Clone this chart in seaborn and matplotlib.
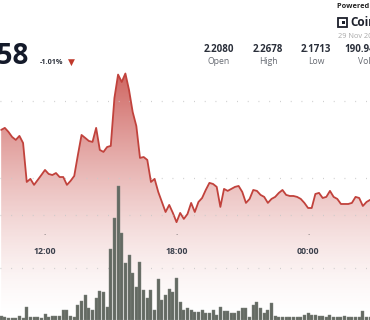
import numpy as np
import pandas as pd
import matplotlib
matplotlib.use("Agg")
import matplotlib.pyplot as plt
import matplotlib.transforms as mtransforms
from matplotlib.patches import Rectangle
import seaborn as sns

# ---------------- data ----------------
start_hour = 10.0          # first 10-minute candle visible (10:00)
candle_minutes = 10
price = [
    2.2312, 2.2325, 2.2299, 2.2266, 2.2247, 2.2273, 2.2227, 2.1974, 2.1994, 2.1955,
    2.1987, 2.2019, 2.2052, 2.2026, 2.2019, 2.2032, 2.2006, 2.2006, 2.1955, 2.1981,
    2.2013, 2.2149, 2.2279, 2.2260, 2.2240, 2.2234, 2.2325, 2.2182, 2.2169, 2.2201,
    2.2208, 2.2519, 2.2671, 2.2623, 2.2678, 2.2571, 2.2428, 2.2337, 2.2130, 2.2136,
    2.2117, 2.1974, 2.1994, 2.1909, 2.1844, 2.1779, 2.1825, 2.1773, 2.1713, 2.1773,
    2.1734, 2.1766, 2.1838, 2.1779, 2.1844, 2.1870, 2.1922, 2.1968, 2.1961, 2.1942,
    2.1812, 2.1929, 2.1916, 2.1929, 2.1942, 2.1948, 2.1909, 2.1838, 2.1864, 2.1922,
    2.1916, 2.1890, 2.1877, 2.1838, 2.1864, 2.1877, 2.1903, 2.1922, 2.1890, 2.1883,
    2.1883, 2.1877, 2.1864, 2.1838, 2.1805, 2.1805, 2.1896, 2.1903, 2.1870, 2.1877,
    2.1916, 2.1877, 2.1864, 2.1831, 2.1831, 2.1831, 2.1838, 2.1877, 2.1870, 2.1818,
    2.1844, 2.1858,
]
volume_k = [
    4, 3, 2, 2, 2, 4, 2, 12, 3, 3,
    3, 2, 6, 3, 4, 4, 4, 10, 10, 4,
    3, 14, 18, 24, 11, 10, 21, 28, 27, 12,
    68, 97, 128, 83, 54, 62, 45, 31, 55, 29,
    21, 29, 10, 39, 19, 24, 30, 27, 40, 17,
    10, 11, 10, 8, 8, 10, 7, 7, 10, 5,
    12, 9, 9, 7, 7, 9, 11, 11, 3, 14,
    17, 11, 7, 10, 16, 4, 3, 3, 3, 3,
    3, 3, 3, 5, 7, 5, 5, 4, 4, 3,
    5, 3, 3, 3, 4, 3, 3, 3, 3, 9,
    3, 3,
]
time_ticks = [12, 18, 24]
time_labels = ["12:00", "18:00", "00:00"]
price_grid = [2.20, 2.25]
volume_grid = [50, 100]
last_price = "2.1858"
change_pct = "-1.01%"
stat_names = ["Open", "High", "Low", "Vol"]
stat_values = ["2.2080", "2.2678", "2.1713", "190.94M"]
source_line = "Powered by"
brand = "CoinDesk"
date_text = "29 Nov 2024"

# ---------------- figure ----------------
sns.set_theme(style="white")
plt.rcParams["font.family"] = ["Open Sans", "DejaVu Sans"]

W, H = 370, 320
fig = plt.figure(figsize=(W / 100, H / 100), dpi=100)
fig.patch.set_facecolor("white")
ax = fig.add_axes([0, 0, 1, 1])
ax.set_facecolor("none")

hours = start_hour + np.arange(len(price)) * candle_minutes / 60.0
df = pd.DataFrame({"hour": hours, "price": price, "volume": volume_k})

xlim = (9.947, 26.826)
ylim = (2.1078, 2.3155)
ax.set_xlim(*xlim)
ax.set_ylim(*ylim)

# gradient fill under price line
rows = 320
ypx = np.linspace(0, H, rows)
alpha = 0.78 * np.clip((H - ypx) / 248.0, 0, 1) ** 1.5
rgba = np.zeros((rows, 2, 4))
rgba[..., 0] = 0.76
rgba[..., 1] = 0.22
rgba[..., 2] = 0.20
rgba[..., 3] = alpha[:, None]
im = ax.imshow(rgba, extent=[xlim[0], xlim[1], ylim[0], ylim[1]],
               aspect="auto", origin="upper", zorder=1, interpolation="bilinear")
poly = ax.fill_between(df["hour"], df["price"], ylim[0], color="none", lw=0)
im.set_clip_path(poly.get_paths()[0], transform=ax.transData)

dot_style = dict(color="#c9c9c9", linewidth=0.9, linestyle=(0, (0.7, 7.9)))
for g in price_grid:
    ax.axhline(g, zorder=2, **dot_style)

sns.lineplot(data=df, x="hour", y="price", ax=ax, color="#c1423c",
             linewidth=1.3, zorder=4)

# volume on a twin axis
ax2 = ax.twinx()
ax2.set_ylim(0, H / 1.05)
for g in volume_grid:
    ax2.axhline(g, zorder=1, **dot_style)
ax2.bar(df["hour"], df["volume"], width=(candle_minutes / 60) * 0.82,
        color="#646a63", edgecolor="#7e847d", linewidth=0.3, zorder=3)

for a in (ax, ax2):
    a.set_xlim(*xlim)
    a.set_xticks([])
    a.set_yticks([])
    a.set_xlabel("")
    a.set_ylabel("")
    for s in a.spines.values():
        s.set_visible(False)

# time axis labels
trans = mtransforms.blended_transform_factory(ax.transData, ax.transAxes)
for t, lab in zip(time_ticks, time_labels):
    ax.text(t, 1 - 251 / H, lab, transform=trans, ha="center", va="center",
            fontsize=6.3, fontweight="bold", color="#3b404c", zorder=6)
    ax.text(t, 1 - 236 / H, "·", transform=trans, ha="center", va="center",
            fontsize=6, color="#555", zorder=6)

# header texts
def fx(px):
    return px / W

def fy(py):
    return 1 - py / H

fig.text(fx(29), fy(56), last_price, ha="right", va="center", fontsize=20,
         fontweight="bold", color="#141a2a")
fig.text(fx(40), fy(62), change_pct, ha="left", va="center", fontsize=5.2,
         fontweight="bold", color="#2b303b")
fig.text(fx(71.5), fy(62), "▼", ha="center", va="center", fontsize=6.5,
         color="#c0392b", family="DejaVu Sans")

stat_x = [219, 268, 316, 364.5]
for x, n, v in zip(stat_x, stat_names, stat_values):
    fig.text(fx(x), fy(50), v, ha="center", va="center", fontsize=7,
             fontweight="bold", color="#2a2f3a")
    fig.text(fx(x), fy(61), n, ha="center", va="center", fontsize=6.2,
             color="#666a72")

fig.text(fx(337), fy(7), source_line, ha="left", va="center", fontsize=5.3,
         fontweight="bold", color="#222")
fig.text(fx(350), fy(22.5), brand, ha="left", va="center", fontsize=8.5,
         fontweight="bold", color="#1b1f2a")
fig.text(fx(338), fy(37), date_text, ha="left", va="center", fontsize=5.3,
         color="#a8a8a8")
# small logo mark
fig.add_artist(Rectangle((fx(338), fy(27)), 9 / W, 9 / H, transform=fig.transFigure,
                         facecolor="none", edgecolor="#1b1f2a", linewidth=1.3))
fig.add_artist(Rectangle((fx(342), fy(24)), 3 / W, 3 / H, transform=fig.transFigure,
                         facecolor="#1b1f2a", edgecolor="none"))

fig.savefig("out.png", dpi=100, facecolor="white")
